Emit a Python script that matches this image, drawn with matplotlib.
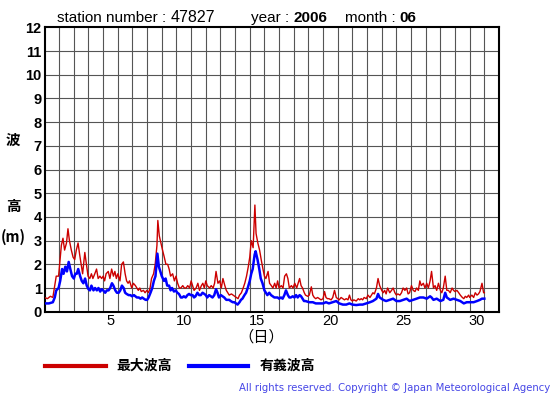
import matplotlib
matplotlib.use("Agg")
import matplotlib.pyplot as plt
from matplotlib.lines import Line2D

# ---- data (days since 1 June 00h, wave height in m) ----
t_red = [0.0, 0.2, 0.4, 0.57, 0.8, 0.96, 1.15, 1.26, 1.37, 1.5, 1.6, 1.7, 1.83, 1.95, 2.06, 2.17, 2.29, 2.4,
         2.5, 2.6, 2.75, 2.86, 2.97, 3.09, 3.2, 3.3, 3.43, 3.55, 3.66, 3.78, 3.9, 4.0, 4.1, 4.2, 4.35, 4.46,
         4.58, 4.7, 4.8, 4.9, 5.0, 5.15, 5.26, 5.38, 5.5, 5.6, 5.7, 5.8, 5.95, 6.06, 6.2, 6.3, 6.4, 6.5, 6.6,
         6.75, 6.86, 6.98, 7.1, 7.2, 7.3, 7.44, 7.55, 7.67, 7.73, 7.83, 7.94, 8.05, 8.17, 8.28, 8.4, 8.5, 8.6,
         8.74, 8.86, 8.97, 9.08, 9.2, 9.3, 9.43, 9.54, 9.66, 9.77, 9.9, 10.0, 10.1, 10.2, 10.34, 10.46, 10.57,
         10.7, 10.8, 10.9, 11.0, 11.1, 11.26, 11.37, 11.5, 11.6, 11.7, 11.83, 11.95, 12.06, 12.17, 12.3, 12.4,
         12.5, 12.6, 12.75, 12.86, 12.97, 13.09, 13.2, 13.3, 13.43, 13.55, 13.66, 13.78, 13.9, 14.0, 14.1,
         14.23, 14.35, 14.43, 14.55, 14.67, 14.78, 14.9, 15.0, 15.1, 15.25, 15.35, 15.47, 15.58, 15.7, 15.8,
         15.9, 16.0, 16.15, 16.27, 16.38, 16.5, 16.6, 16.7, 16.84, 16.95, 17.07, 17.2, 17.3, 17.4, 17.5, 17.6,
         17.72, 17.8, 17.95, 18.06, 18.2, 18.3, 18.4, 18.5, 18.63, 18.75, 18.86, 19.0, 19.1, 19.2, 19.3, 19.4,
         19.55, 19.66, 19.78, 19.9, 20.0, 20.1, 20.23, 20.35, 20.46, 20.58, 20.7, 20.8, 20.9, 21.0, 21.1, 21.26,
         21.4, 21.5, 21.6, 21.7, 21.8, 21.95, 22.06, 22.2, 22.3, 22.4, 22.5, 22.64, 22.75, 22.86, 23.0, 23.1,
         23.2, 23.3, 23.4, 23.55, 23.67, 23.78, 23.9, 24.0, 24.1, 24.24, 24.35, 24.46, 24.58, 24.7, 24.8, 24.9,
         25.03, 25.15, 25.27, 25.38, 25.5, 25.6, 25.7, 25.84, 25.95, 26.07, 26.18, 26.3, 26.4, 26.53, 26.64,
         26.75, 26.87, 27.0, 27.1, 27.2, 27.33, 27.44, 27.55, 27.67, 27.8, 27.9, 28.0, 28.13, 28.25, 28.36,
         28.5, 28.6, 28.7, 28.8, 28.93, 29.0, 29.15, 29.27, 29.38, 29.5, 29.6, 29.7, 29.84, 29.95, 30.0]
h_max = [0.6, 0.55, 0.65, 0.6, 1.5, 1.5, 2.8, 3.1, 2.6, 2.9, 3.5, 3.0, 2.6, 2.3, 2.2, 2.6, 2.9, 2.4,
         2.0, 1.6, 2.5, 2.0, 1.5, 1.4, 1.6, 1.4, 1.6, 1.8, 1.4, 1.5, 1.4, 1.5, 1.3, 1.6, 1.7, 1.4,
         1.8, 1.5, 1.7, 1.4, 1.6, 1.3, 2.0, 2.1, 1.6, 1.3, 1.2, 1.3, 1.0, 1.2, 1.1, 1.0, 0.9, 1.0, 0.85,
         0.9, 0.8, 0.9, 0.8, 1.0, 1.4, 1.6, 2.0, 2.8, 3.85, 3.2, 2.9, 2.6, 2.3, 2.0, 2.0, 1.8, 1.5,
         1.6, 1.3, 1.5, 1.2, 1.0, 1.0, 1.1, 1.0, 1.0, 1.1, 1.0, 1.3, 1.1, 0.9, 1.0, 1.2, 0.9,
         1.1, 1.2, 1.0, 1.3, 1.1, 1.0, 1.1, 1.0, 1.2, 1.7, 1.2, 1.3, 1.0, 1.4, 1.1, 0.9,
         0.8, 0.7, 0.75, 0.7, 0.65, 0.6, 0.55, 0.7, 0.8, 1.0, 1.2, 1.5, 1.9, 2.3, 3.0,
         2.7, 4.5, 3.3, 2.9, 2.6, 2.2, 1.8, 1.5, 1.4, 1.7, 1.2, 1.1, 1.0, 1.2, 1.0,
         1.3, 1.0, 1.1, 1.0, 1.5, 1.6, 1.4, 1.0, 1.1, 1.0, 1.2, 1.0, 1.2, 1.4, 1.1, 1.0,
         0.8, 0.7, 0.65, 0.7, 1.05, 0.7, 0.6, 0.55, 0.6, 0.55, 0.5, 0.55, 0.85, 0.6, 0.55, 0.55,
         0.5, 0.6, 0.9, 0.6, 0.55, 0.5, 0.6, 0.55, 0.5, 0.55, 0.5, 0.7, 0.5, 0.45, 0.5, 0.45,
         0.55, 0.5, 0.55, 0.5, 0.6, 0.55, 0.7, 0.6, 0.7, 0.8, 0.75, 1.0, 1.4, 1.1, 0.9, 0.8,
         0.9, 0.75, 1.0, 0.8, 0.9, 1.0, 0.8, 0.7, 0.75, 0.7, 0.8, 1.0, 0.9, 1.0, 0.75, 0.8,
         1.1, 0.9, 0.85, 1.0, 0.9, 1.3, 1.1, 1.2, 1.0, 1.2, 1.0, 1.3, 1.7, 1.0, 1.1,
         0.9, 1.2, 0.9, 0.8, 1.0, 1.5, 0.9, 0.9, 0.8, 1.0, 0.9, 0.85, 0.9, 0.8, 0.7,
         0.6, 0.55, 0.65, 0.6, 0.7, 0.6, 0.7, 0.6, 0.8, 0.7, 0.75, 0.85, 1.2, 0.8, 0.8]

t_blue = [0.0, 0.3, 0.57, 0.7, 0.8, 0.96, 1.07, 1.2, 1.3, 1.42, 1.53, 1.65, 1.76, 1.88, 2.0, 2.1, 2.2, 2.3,
          2.43, 2.54, 2.65, 2.77, 2.88, 3.0, 3.1, 3.2, 3.34, 3.45, 3.57, 3.68, 3.8, 3.9, 4.0, 4.14, 4.25,
          4.37, 4.48, 4.6, 4.7, 4.83, 4.94, 5.06, 5.17, 5.28, 5.4, 5.5, 5.6, 5.74, 5.86, 5.97, 6.1, 6.2, 6.3,
          6.43, 6.55, 6.66, 6.77, 6.9, 7.0, 7.1, 7.23, 7.35, 7.46, 7.57, 7.7, 7.8, 7.9, 8.0, 8.15, 8.26, 8.37,
          8.5, 8.6, 8.7, 8.83, 8.95, 9.06, 9.17, 9.3, 9.4, 9.5, 9.63, 9.75, 9.86, 9.97, 10.1, 10.2, 10.3,
          10.43, 10.55, 10.66, 10.78, 10.9, 11.0, 11.1, 11.23, 11.35, 11.46, 11.58, 11.7, 11.8, 11.9, 12.03,
          12.15, 12.26, 12.4, 12.5, 12.6, 12.7, 12.84, 12.95, 13.06, 13.17, 13.3, 13.4, 13.5, 13.64, 13.75,
          13.86, 14.0, 14.1, 14.2, 14.33, 14.4, 14.53, 14.65, 14.75, 14.87, 15.0, 15.1, 15.2, 15.33, 15.45,
          15.56, 15.68, 15.8, 15.9, 16.0, 16.13, 16.24, 16.36, 16.47, 16.6, 16.7, 16.8, 16.93, 17.05, 17.16,
          17.27, 17.4, 17.5, 17.6, 17.7, 17.8, 18.06, 18.3, 18.5, 18.75, 19.0, 19.2, 19.4, 19.66, 19.9, 20.1,
          20.35, 20.58, 20.8, 21.0, 21.26, 21.5, 21.7, 21.95, 22.2, 22.4, 22.64, 22.75, 22.86, 23.1, 23.3,
          23.55, 23.78, 24.0, 24.24, 24.46, 24.7, 24.9, 25.15, 25.38, 25.6, 25.84, 26.07, 26.3, 26.4, 26.53,
          26.75, 27.0, 27.2, 27.33, 27.44, 27.67, 27.9, 28.13, 28.36, 28.6, 28.8, 29.0, 29.27, 29.5, 29.7,
          29.84, 30.0]
h_sig = [0.35, 0.35, 0.4, 0.6, 0.9, 1.0, 1.3, 1.8, 1.6, 1.9, 1.7, 2.1, 1.8, 1.5, 1.4, 1.6, 1.6, 1.8,
         1.5, 1.3, 1.2, 1.4, 1.1, 0.95, 0.9, 1.1, 0.9, 1.0, 0.9, 1.0, 0.85, 0.95, 0.9, 0.8, 0.9,
         0.9, 1.0, 1.2, 1.1, 0.9, 0.8, 0.8, 0.9, 1.1, 1.0, 0.8, 0.75, 0.7, 0.7, 0.65, 0.7, 0.65, 0.6,
         0.6, 0.55, 0.6, 0.55, 0.5, 0.5, 0.6, 0.8, 1.0, 1.3, 1.5, 2.45, 1.9, 1.7, 1.5, 1.3, 1.4, 1.1,
         1.1, 0.9, 1.0, 0.85, 0.9, 0.8, 0.75, 0.6, 0.6, 0.65, 0.6, 0.7, 0.75, 0.7, 0.7, 0.6, 0.65,
         0.8, 0.7, 0.7, 0.8, 0.75, 0.7, 0.6, 0.7, 0.65, 0.6, 0.7, 0.95, 0.8, 0.6, 0.7,
         0.65, 0.6, 0.5, 0.5, 0.5, 0.45, 0.4, 0.4, 0.35, 0.3, 0.4, 0.5, 0.55, 0.7, 0.8,
         1.0, 1.3, 1.6, 1.8, 2.4, 2.55, 2.2, 1.8, 1.4, 1.2, 0.9, 0.8, 0.7, 0.8, 0.7,
         0.65, 0.6, 0.6, 0.6, 0.55, 0.6, 0.55, 0.7, 0.9, 0.7, 0.6, 0.6, 0.65, 0.6, 0.7,
         0.6, 0.7, 0.65, 0.55, 0.45, 0.45, 0.4, 0.4, 0.35, 0.35, 0.35, 0.4, 0.35, 0.4, 0.45, 0.35,
         0.3, 0.3, 0.35, 0.3, 0.28, 0.3, 0.3, 0.35, 0.4, 0.45, 0.55, 0.75, 0.6, 0.5, 0.45,
         0.5, 0.55, 0.45, 0.45, 0.5, 0.55, 0.45, 0.5, 0.55, 0.6, 0.6, 0.55, 0.65, 0.6, 0.5,
         0.55, 0.45, 0.5, 0.8, 0.6, 0.5, 0.55, 0.5, 0.45, 0.35, 0.4, 0.4, 0.4, 0.45, 0.5,
         0.55, 0.55]

day_labels = [5, 10, 15, 20, 25, 30]
y_ticks = list(range(0, 13))

W, H = 555, 395
fig = plt.figure(figsize=(W / 100, H / 100), dpi=100)
fig.patch.set_facecolor("white")

L, R, T, B = 44.5, 499, 27.3, 311.7
ax = fig.add_axes([L / W, 1 - B / H, (R - L) / W, (B - T) / H])
ax.set_xlim(0, 31)
ax.set_ylim(0, 12)

for d in range(1, 31):
    ax.axvline(d, color="#555555", lw=0.8, zorder=1)
for v in y_ticks[1:-1]:
    ax.axhline(v, color="#555555", lw=0.8, zorder=1)

ax.plot(t_red, h_max, color="#cc0000", lw=1.0, zorder=3)
ax.plot(t_blue, h_sig, color="#0000ff", lw=1.8, zorder=4)

for s in ax.spines.values():
    s.set_linewidth(1.5)
    s.set_color("black")

ax.set_yticks(y_ticks)
ax.set_yticklabels([str(v) for v in y_ticks], fontsize=10.5, fontweight="bold",
                   family=["Liberation Sans", "DejaVu Sans"])
ax.set_xticks([d - 0.5 for d in day_labels])
ax.set_xticklabels([str(d) for d in day_labels], fontsize=10.5,
                   family=["Liberation Sans", "DejaVu Sans"])
ax.tick_params(axis="both", length=0, pad=2)

cjk = ["Noto Sans CJK JP", "DejaVu Sans"]
renderer = fig.canvas.get_renderer()


def px(x, y, s, **kw):
    return fig.text(x / W, 1 - y / H, s, **kw)


def place(x0, y, parts, scale):
    x = x0
    arts = []
    for s, size, weight in parts:
        t = px(x, y, s, fontsize=size * scale, fontweight=weight,
               family=["Liberation Sans", "DejaVu Sans"], va="center")
        x += t.get_window_extent(renderer).width
        arts.append(t)
    return arts, x - x0


station_parts = [("station number : ", 10.5, "normal"), ("47827", 11, "normal")]
arts, w = place(57, 18, station_parts, 1.0)
for a in arts:
    a.remove()
scale = (216 - 57) / w
place(57, 18, station_parts, scale)
place(251, 18, [("year : ", 10.5, "normal"), ("2006", 10.5, "bold")], scale)
place(345, 18, [("month : ", 10.5, "normal"), ("06", 10.5, "bold")], scale)

# y label
px(13, 140, "波", fontsize=10.5, fontweight="bold", family=cjk, ha="center", va="center")
px(13, 206, "高", fontsize=10.5, fontweight="bold", family=cjk, ha="center", va="center")
px(13.5, 237, "(m)", fontsize=10.5, fontweight="bold", family=cjk, ha="center", va="center")

# x label
px(261, 337, "（日）", fontsize=11, family=cjk, ha="center", va="center")

# legend
fig.add_artist(Line2D([45 / W, 106 / W], [1 - 366 / H] * 2, color="#cc0000", lw=3))
px(116, 366, "最大波高", fontsize=10, fontweight="bold", family=cjk, va="center")
fig.add_artist(Line2D([189 / W, 248 / W], [1 - 366 / H] * 2, color="#0000ff", lw=3))
px(260, 366, "有義波高", fontsize=10, fontweight="bold", family=cjk, va="center")

# copyright
px(550, 388, "All rights reserved. Copyright \u00a9 Japan Meteorological Agency",
   fontsize=7.25, color="#4646e6", ha="right", va="center", family=["DejaVu Sans"])

fig.savefig("out.png", dpi=100, facecolor="white")
